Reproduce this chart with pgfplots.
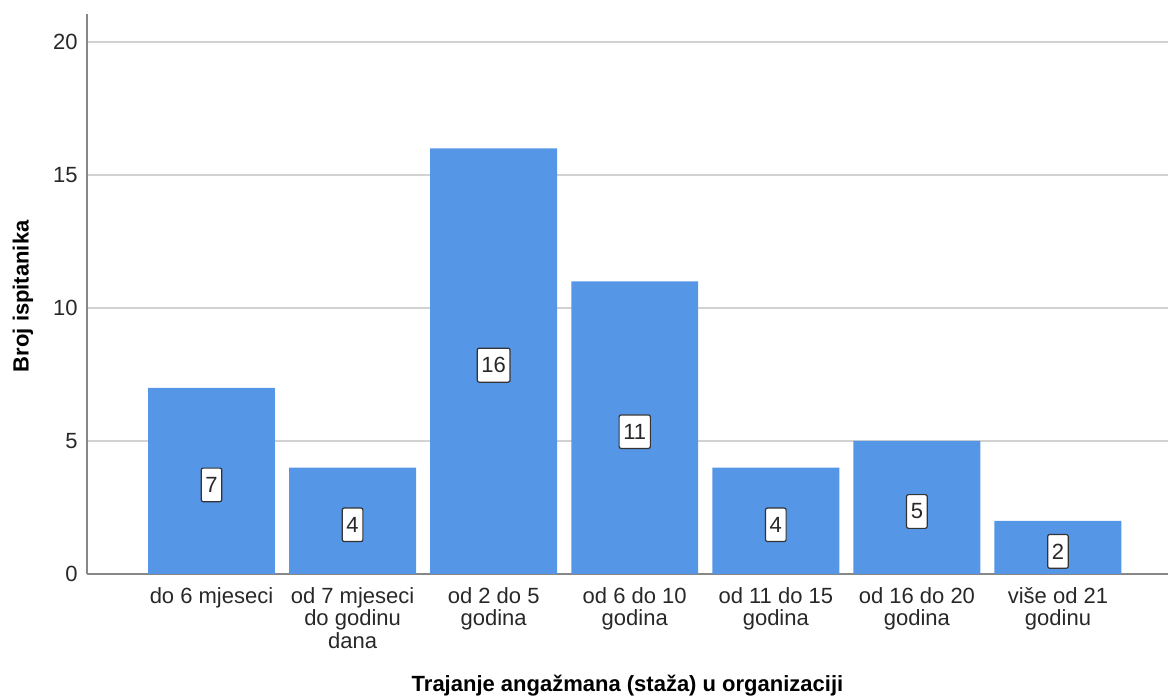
\documentclass[border=0pt]{standalone}
\usepackage{fontspec}
\setmainfont{Liberation Sans}
\usepackage{pgfplots}
\pgfplotsset{compat=1.18}
\usepackage{pgfplotstable}

\definecolor{barblue}{RGB}{85,150,230}
\definecolor{gridgray}{RGB}{210,210,210}
\definecolor{axisgray}{RGB}{135,135,135}
\definecolor{txtgray}{RGB}{40,40,40}

% staza: category index, number of respondents
\pgfplotstableread{
x y
0 7
1 4
2 16
3 11
4 4
5 5
6 2
}\staza

\begin{document}
\begin{tikzpicture}
\begin{axis}[
  scale only axis, width=540.5pt, height=280pt,
  xmin=-0.8825, xmax=6.78, ymin=0, ymax=21.05,
  axis lines=left,
  axis line style={-, axisgray, line width=1pt},
  major tick length=0pt,
  ytick={0,5,10,15,20},
  ymajorgrids, grid style={gridgray, line width=1pt},
  xtick={0,1,2,3,4,5,6},
  xticklabels={{do 6 mjeseci},{od 7 mjeseci\\do godinu\\dana},{od 2 do 5\\godina},{od 6 do 10\\godina},{od 11 do 15\\godina},{od 16 do 20\\godina},{više od 21\\godinu}},
  /pgf/number format/assume math mode=true,
  tick label style={font=\fontsize{11}{11.2}\selectfont, text=txtgray},
  yticklabel style={inner sep=0pt, xshift=-4.5pt},
  xticklabel style={align=center, anchor=north, inner sep=0pt, yshift=-6.5pt},
  xlabel={Trajanje angažmana (staža) u organizaciji},
  xlabel style={font=\bfseries\fontsize{11}{13}\selectfont, at={(axis description cs:0.5,0)}, anchor=base, yshift=-59pt, inner sep=0pt},
  ylabel={Broj ispitanika},
  ylabel style={font=\bfseries\fontsize{11}{13}\selectfont, at={(axis description cs:-0.0592,0.496)}, anchor=center, inner sep=0pt},
  clip=false,
]
\coordinate (o) at (rel axis cs:0,0);
\addplot[ybar, bar width=0.9, fill=barblue, draw=none] table[x=x, y=y] {\staza};
\addplot[draw=none, mark=none, forget plot, point meta=explicit,
  nodes near coords,
  every node near coord/.style={anchor=center, yshift=-2pt, draw=black!80, fill=white, line width=0.6pt, rounded corners=1pt, inner xsep=2.1pt, inner ysep=4.6pt, font=\fontsize{11}{11.2}\selectfont, text=txtgray}]
  table[x=x, y expr=\thisrow{y}/2, meta=y] {\staza};
\end{axis}
\pgfresetboundingbox
\path (o) ++(-43.5pt,-62.5pt) rectangle ++(585.5pt,349.5pt);
\end{tikzpicture}
\end{document}
